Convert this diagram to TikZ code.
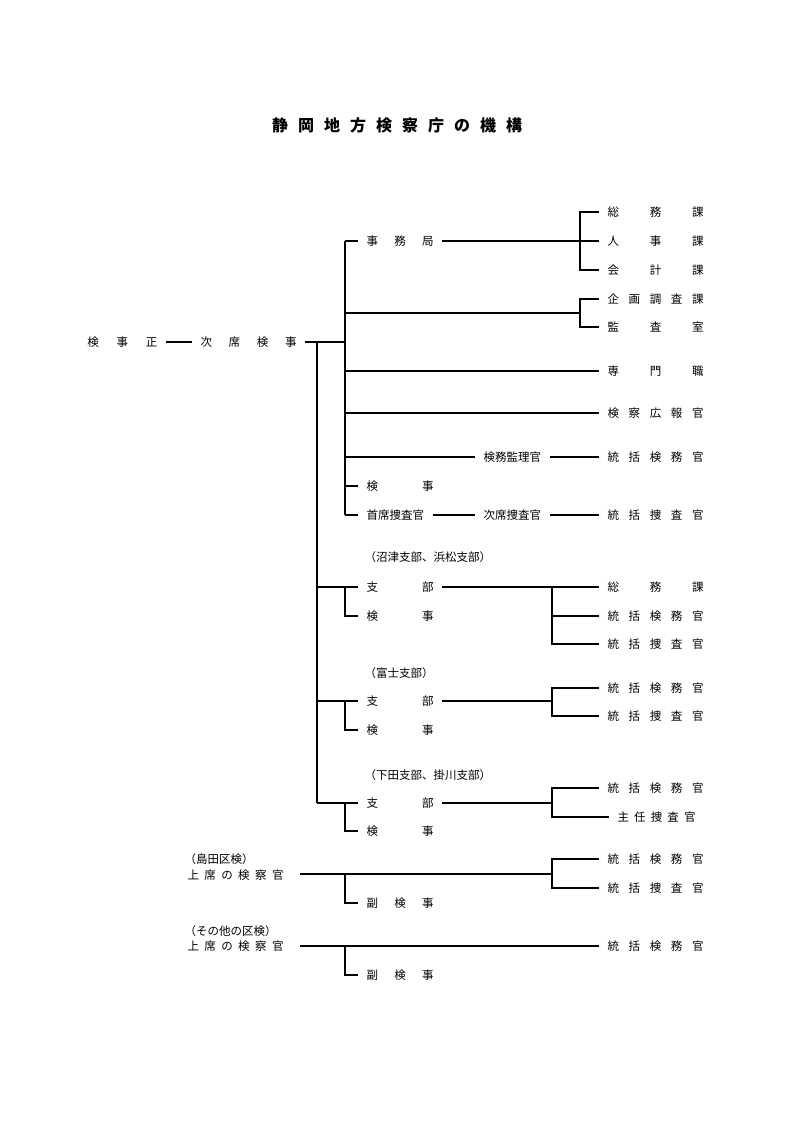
\documentclass[tikz,border=0pt]{standalone}
\usepackage{fontspec}
\setmainfont{Noto Sans CJK JP}
\newcommand\spr[2]{\makebox[#1pt][s]{#2}}
\begin{document}
\begin{tikzpicture}[x=1pt,y=-1pt,line width=1.1pt,
  lab/.style={anchor=west,inner xsep=8pt,inner ysep=2pt,font=\fontsize{11.5}{12}\selectfont},
  note/.style={anchor=west,inner sep=0pt,font=\fontsize{11.5}{12}\selectfont}]
\useasboundingbox (0,0) rectangle (794,1123);
\node[font=\fontsize{16}{18}\selectfont\bfseries] (title) at (397,125) {\spr{250}{静\hfill 岡\hfill 地\hfill 方\hfill 検\hfill 察\hfill 庁\hfill の\hfill 機\hfill 構}};
% left
\node[lab,anchor=east] (kjs) at (166,342) {\spr{70}{検\hfill 事\hfill 正}};
\node[lab] (jsk) at (192,342) {\spr{96}{次\hfill 席\hfill 検\hfill 事}};
\draw (kjs.east) -- (jsk.west);
\coordinate (A) at (345,342);
\draw (jsk.east) -- (A);
\coordinate (B) at (317,342);
\coordinate (Bb) at (317,803);
\draw (B) -- (Bb);
\coordinate (Ct) at (345,241); \coordinate (Cb) at (345,515);
\draw (Ct) -- (Cb);
% 事務局
\node[lab] (jmk) at (358,241) {\spr{67}{事\hfill 務\hfill 局}};
\draw (Ct) -- (jmk.west);
\node[lab] (r1) at (599,212) {\spr{96}{総\hfill 務\hfill 課}};
\node[lab] (r2) at (599,241) {\spr{96}{人\hfill 事\hfill 課}};
\node[lab] (r3) at (599,270) {\spr{96}{会\hfill 計\hfill 課}};
\draw (jmk.east) -- (r2.west);
\draw (r1.west) -- (580,212) -- (580,270) -- (r3.west);
\node[lab] (r4) at (599,299) {\spr{96}{企\hfill 画\hfill 調\hfill 査\hfill 課}};
\node[lab] (r5) at (599,327) {\spr{96}{監\hfill 査\hfill 室}};
\draw (r4.west) -- (580,299) -- (580,327) -- (r5.west);
\draw (345,313) -- (580,313);
\node[lab] (r6) at (599,371) {\spr{96}{専\hfill 門\hfill 職}};
\draw (345,371) -- (r6.west);
\node[lab] (r7) at (599,413) {\spr{96}{検\hfill 察\hfill 広\hfill 報\hfill 官}};
\draw (345,413) -- (r7.west);
\node[lab] (kmk) at (475,457) {検務監理官};
\node[lab] (r8) at (599,457) {\spr{96}{統\hfill 括\hfill 検\hfill 務\hfill 官}};
\draw (345,457) -- (kmk.west); \draw (kmk.east) -- (r8.west);
\node[lab] (kj1) at (358,486) {\spr{67}{検\hfill 事}};
\draw (345,486) -- (kj1.west);
\node[lab] (sss) at (358,515) {首席捜査官};
\node[lab] (jss) at (475,515) {次席捜査官};
\node[lab] (r9) at (599,515) {\spr{96}{統\hfill 括\hfill 捜\hfill 査\hfill 官}};
\draw (Cb) -- (sss.west); \draw (sss.east) -- (jss.west); \draw (jss.east) -- (r9.west);
% 沼津
\node[note] (n1) at (364,557) {（沼津支部、浜松支部）};
\node[lab] (sb1) at (358,587) {\spr{67}{支\hfill 部}};
\node[lab] (kj2) at (358,616) {\spr{67}{検\hfill 事}};
\draw (317,587) -- (sb1.west);
\draw (345,587) -- (345,616) -- (kj2.west);
\node[lab] (s1) at (599,587) {\spr{96}{総\hfill 務\hfill 課}};
\node[lab] (s2) at (599,616) {\spr{96}{統\hfill 括\hfill 検\hfill 務\hfill 官}};
\node[lab] (s3) at (599,644) {\spr{96}{統\hfill 括\hfill 捜\hfill 査\hfill 官}};
\draw (sb1.east) -- (s1.west);
\draw (552,587) -- (552,644) -- (s3.west); \draw (552,616) -- (s2.west);
% 富士
\node[note] (n2) at (364,673) {（富士支部）};
\node[lab] (sb2) at (358,701) {\spr{67}{支\hfill 部}};
\node[lab] (kj3) at (358,730) {\spr{67}{検\hfill 事}};
\draw (317,701) -- (sb2.west);
\draw (345,701) -- (345,730) -- (kj3.west);
\node[lab] (f1) at (599,688) {\spr{96}{統\hfill 括\hfill 検\hfill 務\hfill 官}};
\node[lab] (f2) at (599,716) {\spr{96}{統\hfill 括\hfill 捜\hfill 査\hfill 官}};
\draw (sb2.east) -- (552,701);
\draw (f1.west) -- (552,688) -- (552,716) -- (f2.west);
% 下田
\node[note] (n3) at (364,775) {（下田支部、掛川支部）};
\node[lab] (sb3) at (358,803) {\spr{67}{支\hfill 部}};
\node[lab] (kj4) at (358,831) {\spr{67}{検\hfill 事}};
\draw (Bb) -- (sb3.west);
\draw (345,803) -- (345,831) -- (kj4.west);
\node[lab] (d1) at (599,788) {\spr{96}{統\hfill 括\hfill 検\hfill 務\hfill 官}};
\node[lab] (d2) at (609,817) {\spr{78}{主\hfill 任\hfill 捜\hfill 査\hfill 官}};
\draw (sb3.east) -- (552,803);
\draw (d1.west) -- (552,788) -- (552,817) -- (d2.west);
% 島田
\node[note] (n4) at (184,859) {（島田区検）};
\node[note] (jk1) at (187,875) {\spr{96}{上\hfill 席\hfill の\hfill 検\hfill 察\hfill 官}};
\node[lab] (fk1) at (358,903) {\spr{67}{副\hfill 検\hfill 事}};
\draw (300,874) -- (552,874);
\draw (345,874) -- (345,903) -- (fk1.west);
\node[lab] (h1) at (599,859) {\spr{96}{統\hfill 括\hfill 検\hfill 務\hfill 官}};
\node[lab] (h2) at (599,888) {\spr{96}{統\hfill 括\hfill 捜\hfill 査\hfill 官}};
\draw (h1.west) -- (552,859) -- (552,888) -- (h2.west);
% その他
\node[note] (n5) at (184,931) {（その他の区検）};
\node[note] (jk2) at (187,946) {\spr{96}{上\hfill 席\hfill の\hfill 検\hfill 察\hfill 官}};
\node[lab] (fk2) at (358,975) {\spr{67}{副\hfill 検\hfill 事}};
\node[lab] (o1) at (599,946) {\spr{96}{統\hfill 括\hfill 検\hfill 務\hfill 官}};
\draw (300,946) -- (o1.west);
\draw (345,946) -- (345,975) -- (fk2.west);
\end{tikzpicture}
\end{document}
